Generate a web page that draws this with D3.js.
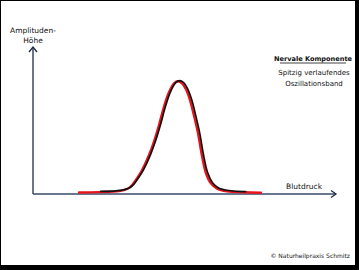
<!DOCTYPE html>
<html><head><meta charset="utf-8">
<script src="https://cdn.jsdelivr.net/npm/d3@7"></script>
<style>html,body{margin:0;padding:0;background:#fff;}svg{display:block;}</style>
</head><body>
<script>
// Data (arbitrary units: blood pressure 0-100, amplitude 0-100)
const bloodPressure = [18.3, 26.1, 33.9, 37.0, 38.9, 40.9, 42.8, 45.5, 47.5, 49.4, 51.4, 53.3, 55.3, 56.8, 58.4, 59.9, 61.5, 63.0, 64.6, 66.1, 67.7, 69.6, 72.0, 75.9, 82.5, 89.1];
const amplitude     = [1.2, 1.5, 2.2, 3.6, 6.2, 11.0, 16.4, 26.7, 36.3, 47.3, 60.3, 69.9, 76.0, 77.4, 76.0, 71.9, 64.4, 54.1, 41.8, 26.7, 14.4, 7.5, 3.9, 2.1, 1.4, 1.1];
const yLabelLines = ["Amplituden-", "Höhe"];
const xLabel = "Blutdruck";
const titleText = "Nervale Komponente";
const subtitleLines = ["Spitzig verlaufendes", "Oszillationsband"];
const copyrightText = "© Naturheilpraxis Schmitz";

const W = 359, H = 270;
const svg = d3.select("body").append("svg").attr("width", W).attr("height", H);
svg.append("rect").attr("width", W).attr("height", H).attr("fill", "#fff");

const x = d3.scaleLinear().domain([0, 100]).range([33, 290]);
const y = d3.scaleLinear().domain([0, 100]).range([194, 48]);
const x0 = x(0), y0 = y(0);

const font = "'Comic Sans MS','DejaVu Sans',sans-serif";

// axes
const axisColor = "#1f2a44";
svg.append("line").attr("x1", x0).attr("y1", y0).attr("x2", x0).attr("y2", 47)
  .attr("stroke", axisColor).attr("stroke-width", 1.3);
svg.append("path").attr("d", `M${x0-4},${52} L${x0},${47} L${x0+4},${52}`)
  .attr("fill", "none").attr("stroke", axisColor).attr("stroke-width", 1.3);
svg.append("line").attr("x1", x0).attr("y1", y0).attr("x2", 336).attr("y2", y0)
  .attr("stroke", "#3a4a6a").attr("stroke-width", 1.3);
svg.append("path").attr("d", `M${331},${y0-3.5} L${336},${y0} L${331},${y0+3.5}`)
  .attr("fill", "none").attr("stroke", axisColor).attr("stroke-width", 1.3);

// curve
const pts = bloodPressure.map((b, i) => [b, amplitude[i]]);
const line = d3.line().x(d => x(d[0])).y(d => y(d[1])).curve(d3.curveCatmullRom.alpha(0.5));
svg.append("path").attr("d", line(pts)).attr("transform", "translate(-1,0.3)")
  .attr("fill", "none").attr("stroke", "#e8141c").attr("stroke-width", 2.4).attr("stroke-linecap", "round");
svg.append("path").attr("d", line(pts.slice(1, -1))).attr("transform", "translate(0.6,-0.4)")
  .attr("fill", "none").attr("stroke", "#111").attr("stroke-width", 1.7).attr("stroke-linecap", "round");

// y label
svg.selectAll("text.yl").data(yLabelLines).enter().append("text")
  .attr("x", x0).attr("y", (d, i) => 33 + i * 10).attr("text-anchor", "middle")
  .attr("font-family", font).attr("font-size", 7.5).attr("fill", "#111").text(d => d);

// x label
svg.append("text").attr("x", 304).attr("y", 189).attr("text-anchor", "middle")
  .attr("font-family", font).attr("font-size", 7.5).attr("fill", "#111").text(xLabel);

// title box
svg.append("text").attr("x", 313).attr("y", 61).attr("text-anchor", "middle")
  .attr("font-family", font).attr("font-size", 6.6).attr("font-weight", "bold")
  .attr("fill", "#111").text(titleText);
svg.append("line").attr("x1", 280).attr("x2", 346).attr("y1", 63).attr("y2", 63)
  .attr("stroke", "#111").attr("stroke-width", 0.8);
svg.selectAll("text.sub").data(subtitleLines).enter().append("text")
  .attr("x", 314).attr("y", (d, i) => 75 + i * 11).attr("text-anchor", "middle")
  .attr("font-family", font).attr("font-size", 7).attr("fill", "#111").text(d => d);

// copyright
svg.append("text").attr("x", 350).attr("y", 258).attr("text-anchor", "end")
  .attr("font-family", font).attr("font-size", 6).attr("fill", "#111").text(copyrightText);

// frame
svg.append("rect").attr("x", 0.5).attr("y", 0.5).attr("width", W - 1).attr("height", H - 1)
  .attr("fill", "none").attr("stroke", "#000").attr("stroke-width", 1);
svg.append("rect").attr("x", 355).attr("y", 0).attr("width", 4).attr("height", H).attr("fill", "#000");
svg.append("rect").attr("x", 0).attr("y", 265).attr("width", W).attr("height", 5).attr("fill", "#000");
</script>
</body></html>
